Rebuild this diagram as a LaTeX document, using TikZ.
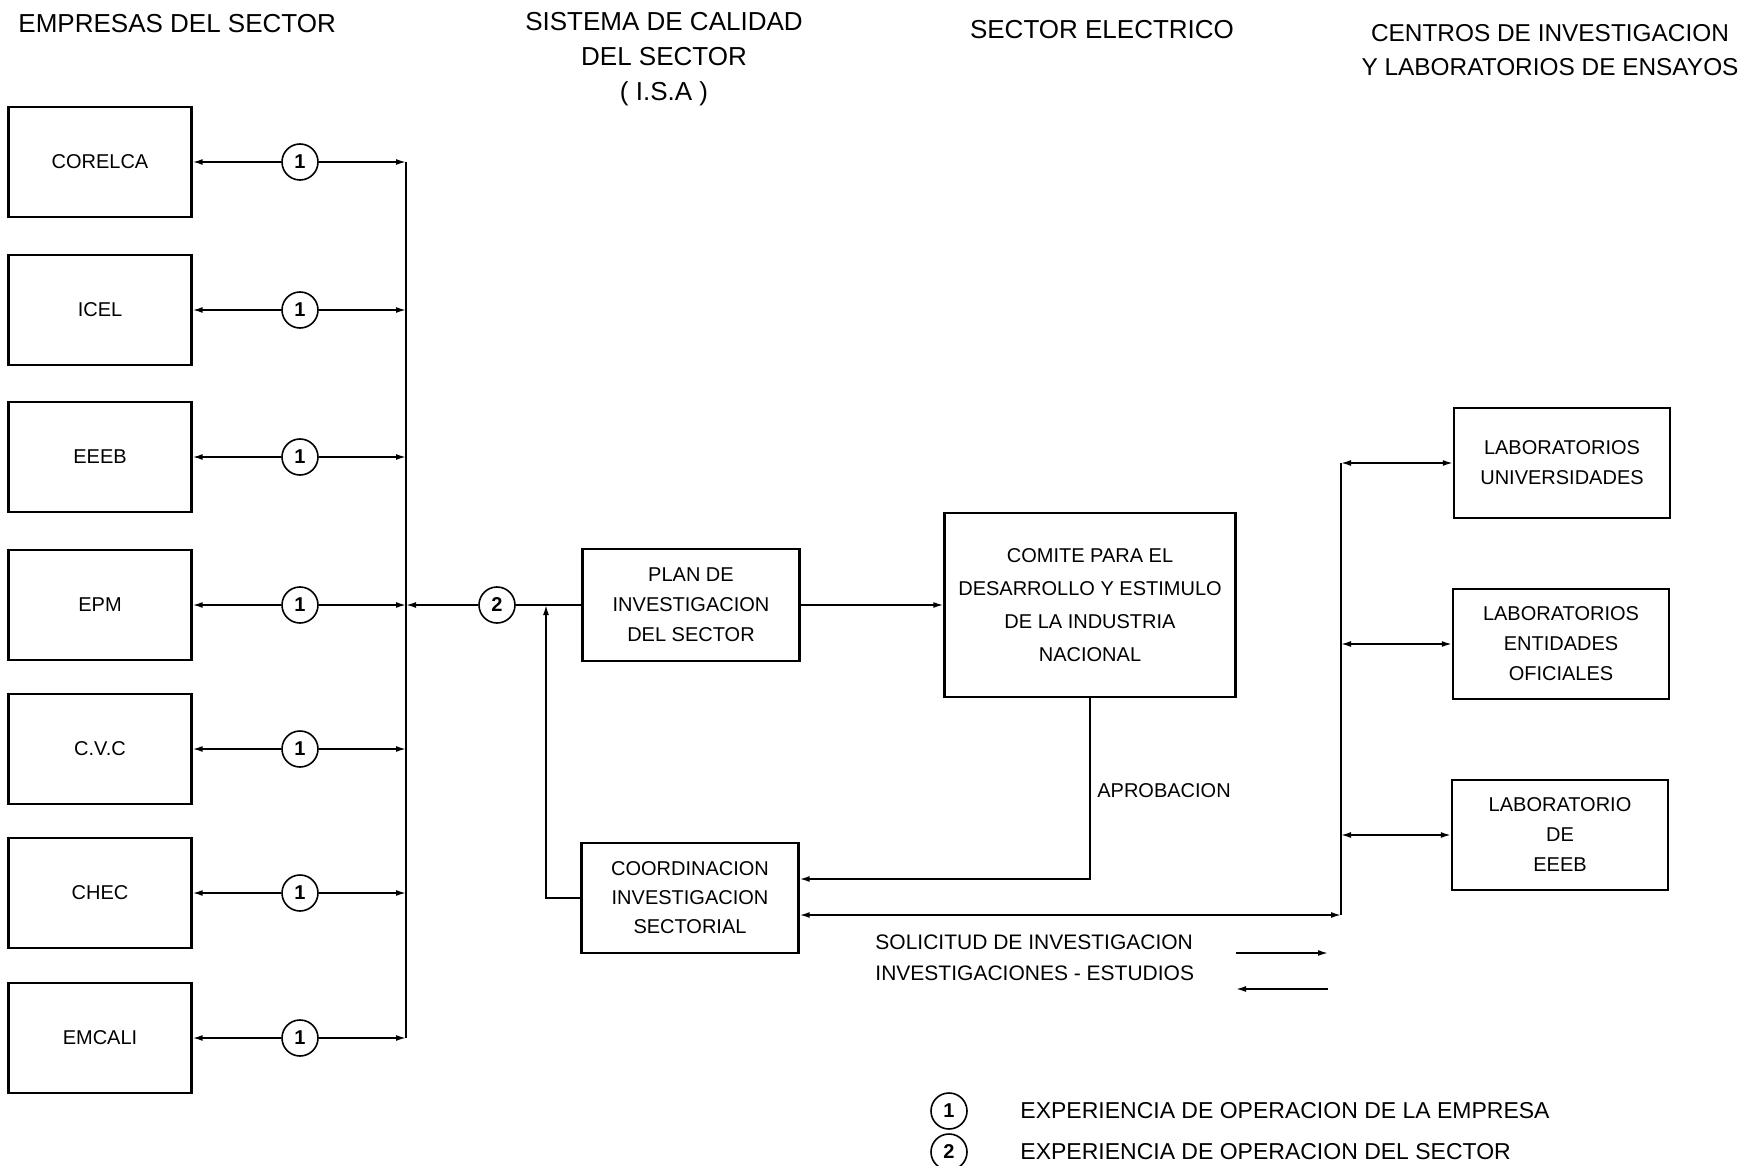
\documentclass[tikz,border=0pt]{standalone}
\usepackage{fontspec}
\setmainfont{Liberation Sans}
\usetikzlibrary{positioning, arrows.meta}

\begin{document}
\begin{tikzpicture}[x=0.5pt, y=-0.5pt, line width=0.8pt,
    >={Latex[length=5pt,width=3pt]},
    caja/.style={draw, line width=1.2pt, align=center, inner sep=0pt,
        font=\fontsize{10}{15}\selectfont},
    empresa/.style={caja, minimum width=91.5pt, minimum height=55pt},
    lab/.style={caja, minimum width=108pt, minimum height=55pt},
    expcirc/.style={draw, circle, line width=0.8pt, minimum size=18pt,
        inner sep=0pt, font=\fontsize{10}{12}\selectfont\bfseries},
    titulo/.style={align=center, font=\fontsize{13}{17.5}\selectfont},
    rotulo/.style={font=\fontsize{10.5}{12}\selectfont}]
    \useasboundingbox (0,0) rectangle (1746,1166);
    % Titles
    \node[titulo, anchor=west] (tEmp) at (11,24) {EMPRESAS DEL SECTOR};
    \node[titulo] (tIsa) at (664,59) {SISTEMA DE CALIDAD\\DEL SECTOR\\( I.S.A )};
    \node[titulo] (tSec) at (1102,30) {SECTOR ELECTRICO};
    \node[titulo, font=\fontsize{12.2}{17}\selectfont] (tCen) at (1550,50)
        {CENTROS DE INVESTIGACION\\Y LABORATORIOS DE ENSAYOS};
    % Empresas del sector
    \foreach \n/\t/\y in {corelca/CORELCA/162, icel/ICEL/310, eeeb/EEEB/457,
        epm/EPM/605, cvc/C.V.C/749, chec/CHEC/893, emcali/EMCALI/1038} {
        \node[empresa] (\n) at (100,\y) {\t};
        \node[expcirc] (x\n) at (300,\y) {1};
        \coordinate (b\n) at (406,\y);
        \draw[->] (x\n) -- (\n);
        \draw[->] (x\n) -- (b\n);
    }
    \draw (bcorelca) -- (bemcali);
    % Sistema de calidad
    \node[expcirc] (sec) at (497,605) {2};
    \node[caja, minimum width=108.5pt, minimum height=56pt] (plan) at (691,605)
        {PLAN DE\\INVESTIGACION\\DEL SECTOR};
    \node[caja, minimum width=108.5pt, minimum height=55pt, font=\fontsize{10}{14.5}\selectfont] (coord) at (690,898)
        {COORDINACION\\INVESTIGACION\\SECTORIAL};
    \draw[->] (sec) -- (bepm);
    \draw (sec) -- (plan);
    \coordinate (ret) at (546,898);
    \draw[->] (coord.west) -- (ret) -- (ret |- plan.west);
    % Sector electrico
    \node[caja, minimum width=145.5pt, minimum height=92pt, font=\fontsize{10}{16.5}\selectfont] (comite) at (1090,605)
        {COMITE PARA EL\\DESARROLLO Y ESTIMULO\\DE LA INDUSTRIA\\NACIONAL};
    \draw[->] (plan) -- (comite);
    \coordinate (aprob) at (1090,879);
    \draw[->] (comite.south) -- (aprob) -- (aprob -| coord.east);
    \node[caja, draw=none] (lblAprob) at (1164,791) {APROBACION};
    % Laboratorios
    \node[lab] (lab1) at (1562,463) {LABORATORIOS\\UNIVERSIDADES};
    \node[lab] (lab2) at (1561,644) {LABORATORIOS\\ENTIDADES\\OFICIALES};
    \node[lab] (lab3) at (1560,835) {LABORATORIO\\DE\\EEEB};
    \coordinate (lbot) at (1341,915);
    \coordinate (ltop) at (1341,463);
    \draw[<->] (coord.east |- lbot) -- (lbot);
    \draw (lbot) -- (ltop);
    \foreach \l in {lab1,lab2,lab3} {\draw[<->] (ltop |- \l.west) -- (\l.west);}
    % Legend
    \node[rotulo, anchor=west] (lSol) at (868,942) {SOLICITUD DE INVESTIGACION};
    \node[rotulo, anchor=west] (lInv) at (868,973) {INVESTIGACIONES - ESTUDIOS};
    \coordinate (s1) at (1236,953); \coordinate (s2) at (1328,953);
    \coordinate (s3) at (1236,989); \coordinate (s4) at (1328,989);
    \draw[->] (s1) -- (s2);
    \draw[<-] (s3) -- (s4);
    \node[expcirc] (ley1) at (949,1111) {1};
    \node[expcirc] (ley2) at (949,1152) {2};
    \node[anchor=west, font=\fontsize{11.5}{14}\selectfont] (tLey1) at (1013,1111) {EXPERIENCIA DE OPERACION DE LA EMPRESA};
    \node[anchor=west, font=\fontsize{11.5}{14}\selectfont] (tLey2) at (1013,1152) {EXPERIENCIA DE OPERACION DEL SECTOR};
\end{tikzpicture}
\end{document}
